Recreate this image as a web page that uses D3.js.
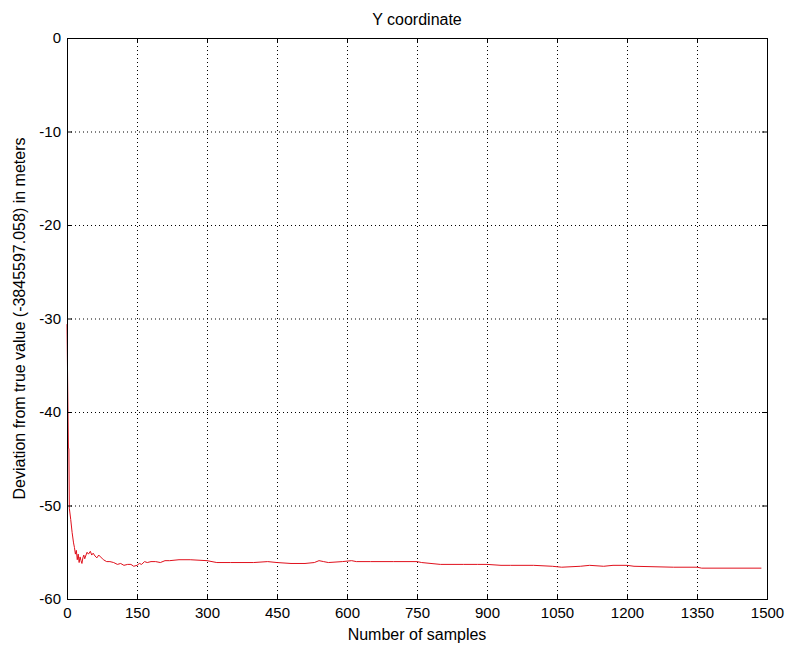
<!DOCTYPE html>
<html><head><meta charset="utf-8">
<script src="https://cdn.jsdelivr.net/npm/d3@7"></script>
<style>body{margin:0;background:#fff}svg{display:block}text{font-family:Arial,"Liberation Sans",sans-serif;font-size:16px;fill:#000}</style>
</head><body><svg id="c" width="787" height="651"></svg>
<script>
const samples = [0,3,4,5,8,11,14,16,18,20,22,24,26,28,30,32,34,36,38,40,43,46,50,53,56,60,64,68,72,78,85,92,100,108,115,122,130,137,143,150,155,160,166,172,180,190,200,210,220,240,264,300,321,350,400,430,450,480,510,530,540,550,560,590,610,620,650,700,750,760,780,800,850,880,900,930,950,1000,1040,1060,1100,1120,1150,1170,1200,1215,1300,1350,1360,1488];
const deviation = [-30.6,-43.9,-43.9,-50.3,-51.5,-52.9,-54.0,-54.5,-55.2,-54.8,-55.8,-55.2,-56.1,-55.5,-55.9,-56.2,-55.6,-55.3,-55.7,-55.4,-55.0,-55.2,-54.9,-55.3,-55.1,-55.4,-55.6,-55.3,-55.5,-55.8,-56.0,-56.0,-56.1,-56.3,-56.2,-56.4,-56.3,-56.3,-56.5,-56.4,-56.2,-56.3,-56.0,-56.1,-56.0,-56.0,-56.1,-55.9,-55.9,-55.8,-55.8,-55.9,-56.1,-56.1,-56.1,-56.0,-56.1,-56.2,-56.2,-56.1,-55.9,-56.0,-56.1,-56.0,-55.9,-56.0,-56.0,-56.0,-56.0,-56.1,-56.2,-56.3,-56.3,-56.3,-56.3,-56.4,-56.4,-56.4,-56.5,-56.6,-56.5,-56.4,-56.5,-56.4,-56.4,-56.5,-56.6,-56.6,-56.7,-56.7];
const xTicks = [0,150,300,450,600,750,900,1050,1200,1350,1500];
const yTicks = [-60,-50,-40,-30,-20,-10,0];
const title = "Y coordinate";
const xLabel = "Number of samples";
const yLabel = "Deviation from true value (-3845597.058) in meters";

const svg = d3.select("#c");
const L=67, R=767, T=38, B=599;
const x = d3.scaleLinear().domain([0,1500]).range([L,R]);
const y = d3.scaleLinear().domain([-60,0]).range([B,T]);

// grid
const g = svg.append("g");
g.selectAll(".gx").data(xTicks.slice(1,-1)).join("line")
 .attr("x1",d=>x(d)+0.5).attr("x2",d=>x(d)+0.5).attr("y1",T).attr("y2",B)
 .attr("stroke","#000").attr("stroke-width",1).attr("stroke-dasharray","1,3");
g.selectAll(".gy").data(yTicks.slice(1,-1)).join("line")
 .attr("y1",d=>y(d)+0.5).attr("y2",d=>y(d)+0.5).attr("x1",L).attr("x2",R)
 .attr("stroke","#000").attr("stroke-width",1).attr("stroke-dasharray","1,3");

// line
svg.append("path").datum(samples.map((s,i)=>[s,deviation[i]]))
 .attr("fill","none").attr("stroke","#e0101c").attr("stroke-width",1)
 .attr("d",d3.line().x(d=>x(d[0])).y(d=>y(d[1])));

// axes
const fmt = d=>String(d);
const ax = svg.append("g").attr("transform",`translate(0,${B})`).call(d3.axisBottom(x).tickValues(xTicks).tickSizeInner(-5).tickSizeOuter(0).tickPadding(8).tickFormat(fmt));
const axt = svg.append("g").attr("transform",`translate(0,${T})`).call(d3.axisTop(x).tickValues(xTicks).tickSizeInner(-5).tickSizeOuter(0).tickFormat(""));
const ay = svg.append("g").attr("transform",`translate(${L},0)`).call(d3.axisLeft(y).tickValues(yTicks).tickSizeInner(-5).tickSizeOuter(0).tickPadding(6).tickFormat(fmt));
const ayr = svg.append("g").attr("transform",`translate(${R},0)`).call(d3.axisRight(y).tickValues(yTicks).tickSizeInner(-5).tickSizeOuter(0).tickFormat(""));
[ax,axt,ay,ayr].forEach(a=>{a.selectAll("path,line").attr("stroke","#000");a.selectAll("text").style("font-size","15px").attr("fill","#000");});
svg.append("rect").attr("x",L+0.5).attr("y",T+0.5).attr("width",R-L).attr("height",B-T).attr("fill","none").attr("stroke","#000");

svg.append("text").attr("x",(L+R)/2).attr("y",25).attr("text-anchor","middle").text(title);
svg.append("text").attr("x",(L+R)/2).attr("y",640).attr("text-anchor","middle").text(xLabel);
svg.append("text").attr("transform",`translate(25,${(T+B)/2}) rotate(-90)`).attr("text-anchor","middle").text(yLabel);
</script></body></html>
